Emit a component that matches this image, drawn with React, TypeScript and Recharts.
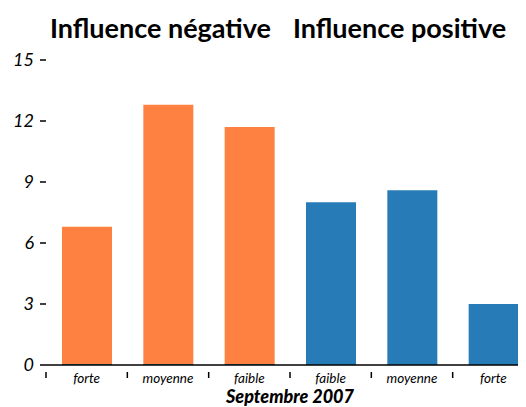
import { BarChart, Bar, XAxis, YAxis } from 'recharts'

const categories = ['forte', 'moyenne', 'faible', 'faible', 'moyenne', 'forte']
const negative = [6.8, 12.8, 11.7, 0, 0, 0]
const positive = [0, 0, 0, 8.0, 8.6, 3.0]
const yTicks = [0, 3, 6, 9, 12, 15]
const titles = ['Influence négative', 'Influence positive']

const data = categories.map((name, i) => ({
  name,
  neg: negative[i],
  pos: positive[i]
}))

const FONT = 'Lato, "DejaVu Sans", sans-serif'
const ORANGE = '#ff8142'
const BLUE = '#277bb6'
const BAND = 488 / 6
const BAR = 50

const XTick = (props: any) => {
  const { x, y, payload } = props
  const left = x - BAND / 2
  return (
    <g>
      <line x1={left} y1={y - 1} x2={left} y2={y + 5} stroke='#000' strokeWidth={1.5} />
      <text
        x={x}
        y={y + 10}
        textAnchor='middle'
        fontFamily={FONT}
        fontStyle='italic'
        fontSize={13.5}
        fill='#000'
      >
        {payload.value}
      </text>
    </g>
  )
}

export default function App () {
  const titleStyle = {
    position: 'absolute' as const,
    top: 3,
    fontFamily: FONT,
    fontWeight: 700,
    fontSize: 27,
    whiteSpace: 'nowrap' as const
  }
  return (
    <div style={{ position: 'relative', width: 518, height: 399, overflow: 'hidden' }}>
      <div style={{ ...titleStyle, left: 42 }}>{titles[0]}</div>
      <div style={{ ...titleStyle, left: 285 }}>{titles[1]}</div>
      <BarChart
        width={526}
        height={399}
        data={data}
        margin={{ top: 52, right: 0, bottom: 12, left: 0 }}
        barSize={BAR}
        barGap={-BAR}
      >
        <XAxis
          dataKey='name'
          height={30}
          tickLine={false}
          stroke='#000'
          strokeWidth={1.5}
          tick={<XTick />}
          interval={0}
          label={{
            value: 'Septembre 2007',
            position: 'bottom',
            offset: -5,
            style: {
              fontFamily: FONT,
              fontWeight: 900,
              fontStyle: 'italic',
              fontSize: 18,
              fill: '#000'
            }
          }}
        />
        <YAxis
          width={38}
          domain={[0, 15]}
          ticks={yTicks}
          axisLine={false}
          tickSize={6}
          tickMargin={6}
          tickLine={{ stroke: '#000', strokeWidth: 1.5 }}
          tick={{ fontFamily: FONT, fontStyle: 'italic', fontSize: 18, fill: '#000' }}
        />
        <Bar dataKey='neg' fill={ORANGE} minPointSize={1} isAnimationActive={false} />
        <Bar dataKey='pos' fill={BLUE} minPointSize={1} isAnimationActive={false} />
      </BarChart>
    </div>
  )
}
